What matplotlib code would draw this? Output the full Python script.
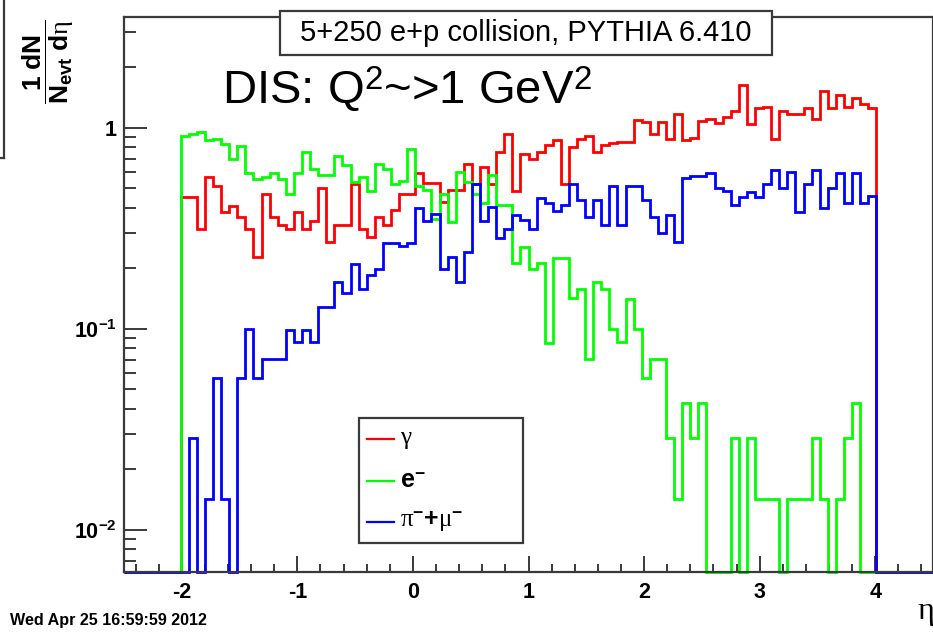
import numpy as np
import matplotlib
matplotlib.use("Agg")
import matplotlib.pyplot as plt
from matplotlib.lines import Line2D
from matplotlib.patches import Rectangle
from matplotlib.ticker import FixedLocator, FixedFormatter, MultipleLocator, LogLocator, NullFormatter

# ---- histogram binning: 100 bins in eta ----
eta_lo, eta_hi, n_bins = -2.5, 4.5, 100

# 1/N_evt dN/deta per bin
gamma = [
    0, 0, 0, 0, 0, 0, 0, 0.453, 0.453, 0.315,
    0.566, 0.513, 0.381, 0.41, 0.358, 0.315, 0.228, 0.467, 0.358, 0.327,
    0.315, 0.381, 0.315, 0.344, 0.499, 0.27, 0.327, 0.327, 0.528, 0.315,
    0.287, 0.358, 0.327, 0.389, 0.467, 0.467, 0.597, 0.532, 0.532, 0.428,
    0.49, 0.49, 0.664, 0.528, 0.639, 0.528, 0.76, 0.93, 0.485, 0.74,
    0.696, 0.76, 0.82, 0.868, 0.528, 0.80, 0.875, 0.909, 0.76, 0.82,
    0.842, 0.852, 0.852, 1.09, 1.07, 0.93, 1.07, 0.875, 1.17, 0.868,
    0.885, 1.08, 1.10, 1.06, 1.126, 1.215, 1.63, 1.05, 1.26, 1.27,
    0.875, 1.215, 1.17, 1.17, 1.26, 1.11, 1.53, 1.26, 1.455, 1.27,
    1.40, 1.32, 1.26, 0, 0, 0, 0, 0, 0, 0,
]
electron = [
    0, 0, 0, 0, 0, 0, 0, 0.912, 0.93, 0.95,
    0.87, 0.88, 0.83, 0.70, 0.81, 0.597, 0.555, 0.566, 0.597, 0.555,
    0.467, 0.597, 0.754, 0.627, 0.58, 0.58, 0.725, 0.652, 0.538, 0.566,
    0.485, 0.657, 0.627, 0.528, 0.544, 0.78, 0.512, 0.49, 0.353, 0.47,
    0.34, 0.604, 0.538, 0.47, 0.423, 0.58, 0.411, 0.411, 0.213, 0.255,
    0.199, 0.213, 0.085, 0.226, 0.226, 0.142, 0.157, 0.071, 0.171, 0.157,
    0.10, 0.086, 0.141, 0.10, 0.057, 0.071, 0.071, 0.0285, 0.0142, 0.0428,
    0.0285, 0.0428, 0, 0, 0, 0.0285, 0, 0.0285, 0.0142, 0.0142,
    0.0142, 0, 0.0142, 0.0142, 0.0142, 0.0285, 0.0142, 0, 0.0142, 0.0285,
    0.0428, 0, 0, 0, 0, 0, 0, 0, 0, 0,
]
pion_muon = [
    0, 0, 0, 0, 0, 0, 0, 0, 0.0285, 0,
    0.0142, 0.057, 0.0142, 0, 0.057, 0.0992, 0.057, 0.071, 0.071, 0.071,
    0.099, 0.086, 0.099, 0.086, 0.128, 0.128, 0.171, 0.15, 0.211, 0.158,
    0.184, 0.199, 0.267, 0.267, 0.257, 0.267, 0.401, 0.344, 0.374, 0.199,
    0.228, 0.171, 0.241, 0.528, 0.344, 0.404, 0.284, 0.315, 0.367, 0.347,
    0.315, 0.445, 0.423, 0.386, 0.412, 0.528, 0.436, 0.36, 0.436, 0.327,
    0.513, 0.327, 0.513, 0.513, 0.436, 0.36, 0.298, 0.367, 0.27, 0.56,
    0.574, 0.574, 0.597, 0.499, 0.485, 0.412, 0.453, 0.48, 0.453, 0.528,
    0.616, 0.499, 0.604, 0.381, 0.528, 0.616, 0.401, 0.499, 0.597, 0.423,
    0.597, 0.423, 0.456, 0, 0, 0, 0, 0, 0, 0,
]

series = [
    (gamma, "#ff0000", r"$\mathsf{\gamma}$"),
    (electron, "#00ff00", r"$\mathbf{e}^{\mathbf{-}}$"),
    (pion_muon, "#0000ff", r"$\mathsf{\pi}^{\mathbf{-}}\mathbf{+}\mathsf{\mu}^{\mathbf{-}}$"),
]

x_ticks = [-2, -1, 0, 1, 2, 3, 4]
x_tick_labels = ["-2", "-1", "0", "1", "2", "3", "4"]
y_ticks = [0.01, 0.1, 1]
y_tick_labels = [r"$\mathbf{10^{-2}}$", r"$\mathbf{10^{-1}}$", r"$\mathbf{1}$"]
y_lo, y_hi = 0.00615, 3.56

# ---- fonts ----
sans = "Liberation Sans"
plt.rcParams["font.family"] = [sans, "DejaVu Sans"]
plt.rcParams["mathtext.fontset"] = "custom"
plt.rcParams["mathtext.rm"] = sans
plt.rcParams["mathtext.bf"] = sans + ":bold"
plt.rcParams["mathtext.it"] = "Liberation Serif:italic"
plt.rcParams["mathtext.sf"] = "Liberation Serif"

W, H, DPI = 933, 641, 100
fig = plt.figure(figsize=(W / DPI, H / DPI), dpi=DPI)


def fx(px):
    return px / W


def fy(py):
    return 1 - py / H


ax = fig.add_axes([fx(124), fy(572), fx(933) - fx(124), fy(17) - fy(572)])
ax.set_xlim(eta_lo, eta_hi)
ax.set_yscale("log")
ax.set_ylim(y_lo, y_hi)

edges = np.linspace(eta_lo, eta_hi, n_bins + 1)
for vals, col, _ in series:
    v = np.asarray(vals, dtype=float)
    v = np.where(v > 0, v, y_lo)  # empty bins sit on the frame
    ax.stairs(v, edges, baseline=None, color=col, lw=2.0, clip_on=False, zorder=3)

# axes frame and ticks
frame_col = "#3a3a3a"
for s in ax.spines.values():
    s.set_color(frame_col)
    s.set_linewidth(1.6)
    s.set_zorder(4)

ax.xaxis.set_major_locator(FixedLocator(x_ticks))
ax.xaxis.set_major_formatter(FixedFormatter(x_tick_labels))
ax.xaxis.set_minor_locator(MultipleLocator(0.2))
ax.yaxis.set_major_locator(FixedLocator(y_ticks))
ax.yaxis.set_major_formatter(FixedFormatter(y_tick_labels))
ax.yaxis.set_minor_locator(LogLocator(base=10, subs=np.arange(2, 10), numticks=20))
ax.yaxis.set_minor_formatter(NullFormatter())

ax.tick_params(axis="x", which="major", direction="in", length=11.5, width=1.4,
               color=frame_col, labelsize=15.5, pad=7)
ax.tick_params(axis="x", which="minor", direction="in", length=6, width=1.4, color=frame_col)
ax.tick_params(axis="y", which="major", direction="in", length=16.5, width=1.4,
               color=frame_col, labelsize=15.5, pad=5)
ax.tick_params(axis="y", which="minor", direction="in", length=8.5, width=1.4, color=frame_col)
for lab in ax.get_xticklabels():
    lab.set_fontweight("bold")

# y-axis title (top-left)
fig.text(fx(48), fy(62), r"$\dfrac{\mathbf{1\ dN}}{\mathbf{N_{evt}\ d}\mathsf{\eta}}$",
         rotation=90, ha="center", va="center", fontsize=19)

# x-axis title
fig.text(fx(926), fy(611), "\u03b7", ha="center", va="center", fontsize=23,
         family="Liberation Serif")

# title pave
fig.patches.append(Rectangle((fx(280), fy(55)), fx(772) - fx(280), fy(11) - fy(55),
                             transform=fig.transFigure, fc="white", ec=frame_col, lw=1.6,
                             zorder=5))
fig.text(fx(526), fy(33), "5+250 e+p collision, PYTHIA 6.410", ha="center", va="center",
         fontsize=21, family=sans, zorder=6)

# process label
fig.text(fx(222), fy(103), r"DIS: Q$^{2}$~>1 GeV$^{2}$", ha="left", va="baseline",
         fontsize=34, family=sans, zorder=6)

# legend
ax.add_patch(Rectangle((fx(359), fy(543)), fx(523) - fx(359), fy(418) - fy(543),
                       transform=fig.transFigure, fc="white", ec=frame_col, lw=1.6,
                       zorder=5, clip_on=False))
for i, (_, col, lab) in enumerate(series):
    yc = 439 + i * 41.5
    fig.add_artist(Line2D([fx(367), fx(394)], [fy(yc), fy(yc)], color=col, lw=1.6,
                          zorder=6))
    fig.text(fx(400), fy(yc), lab, ha="left", va="center", fontsize=18, zorder=6)

# date stamp
fig.text(fx(10), fy(620), "Wed Apr 25 16:59:59 2012", ha="left", va="center",
         fontsize=11.6, fontweight="bold")

# corner of a neighbouring pave at the left edge
fig.add_artist(Line2D([fx(4), fx(4)], [fy(0), fy(158)], color=frame_col, lw=1.6))
fig.add_artist(Line2D([fx(0), fx(4)], [fy(158), fy(158)], color=frame_col, lw=1.6))

fig.savefig("out.png", dpi=DPI)
